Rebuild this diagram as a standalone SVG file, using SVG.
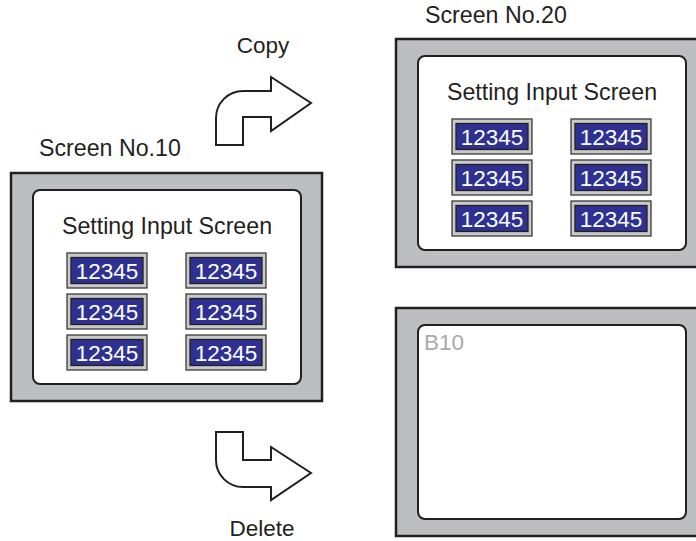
<svg xmlns="http://www.w3.org/2000/svg" xmlns:xlink="http://www.w3.org/1999/xlink" width="696" height="541" viewBox="0 0 696 541">
<style>
.txt{font-family:"Liberation Sans",Arial,sans-serif;fill:#231f20}
.lbl{font-size:22.5px}
.scr{font-size:23.2px}
.title{font-size:23.2px}
.num{font-family:"Liberation Sans",Arial,sans-serif;font-size:22.5px;fill:#ffffff}
.frame{fill:#bcbec0;stroke:#231f20;stroke-width:2.5}
.panel{fill:#ffffff;stroke:#231f20;stroke-width:2}
.boxo{fill:#c9c9c9;stroke:#3a3a3a;stroke-width:1.3}
.boxi{fill:#2e3192;stroke:#231f20;stroke-width:1.3}
.arrow{fill:#ffffff;stroke:#231f20;stroke-width:2;stroke-linejoin:miter}
</style>
<defs>
<g id="numbox">
<rect class="boxo" x="0" y="0" width="80" height="35"/>
<rect class="boxi" x="4" y="4.5" width="72" height="26"/>
<text class="num" x="40" y="25.5" text-anchor="middle">12345</text>
</g>
<g id="setting">
<text class="txt title" x="134" y="44" text-anchor="middle">Setting Input Screen</text>
<use xlink:href="#numbox" x="34" y="63"/>
<use xlink:href="#numbox" x="153" y="63"/>
<use xlink:href="#numbox" x="34" y="104"/>
<use xlink:href="#numbox" x="153" y="104"/>
<use xlink:href="#numbox" x="34" y="145"/>
<use xlink:href="#numbox" x="153" y="145"/>
</g>
</defs>
<rect width="696" height="541" fill="#ffffff"/>

<g id="screen10">
<text class="txt scr" x="39" y="156">Screen No.10</text>
<rect class="frame" x="11" y="173" width="311" height="228"/>
<rect class="panel" x="33" y="190" width="268" height="194" rx="7"/>
<use xlink:href="#setting" x="33" y="190"/>
</g>

<g id="screen20">
<text class="txt scr" x="425" y="23">Screen No.20</text>
<rect class="frame" x="396" y="39" width="311" height="228"/>
<rect class="panel" x="418" y="56" width="268" height="194" rx="7"/>
<use xlink:href="#setting" x="418" y="56"/>
</g>

<g id="screenB10">
<rect class="frame" x="396" y="308" width="311" height="228"/>
<rect class="panel" x="418" y="325" width="268" height="194" rx="7"/>
<text x="424" y="350" font-family="Liberation Sans, Arial, sans-serif" font-size="22.5px" fill="#a7a9ac">B10</text>
</g>

<g id="connectors">
<g id="copy">
<text class="txt lbl" x="263" y="53" text-anchor="middle">Copy</text>
<path class="arrow" d="M216,145 L216,118 A27,27 0 0 1 243,91 L271,91 L271,77 L311,103 L271,131 L271,117 L243,117 L243,145 Z"/>
</g>
<g id="delete">
<path class="arrow" d="M216,432 L243,432 L243,460 L271,460 L271,447 L311,473 L271,500 L271,487 L243,487 A27,27 0 0 1 216,460 Z"/>
<text class="txt lbl" x="262" y="536" text-anchor="middle">Delete</text>
</g>
</g>
</svg>
